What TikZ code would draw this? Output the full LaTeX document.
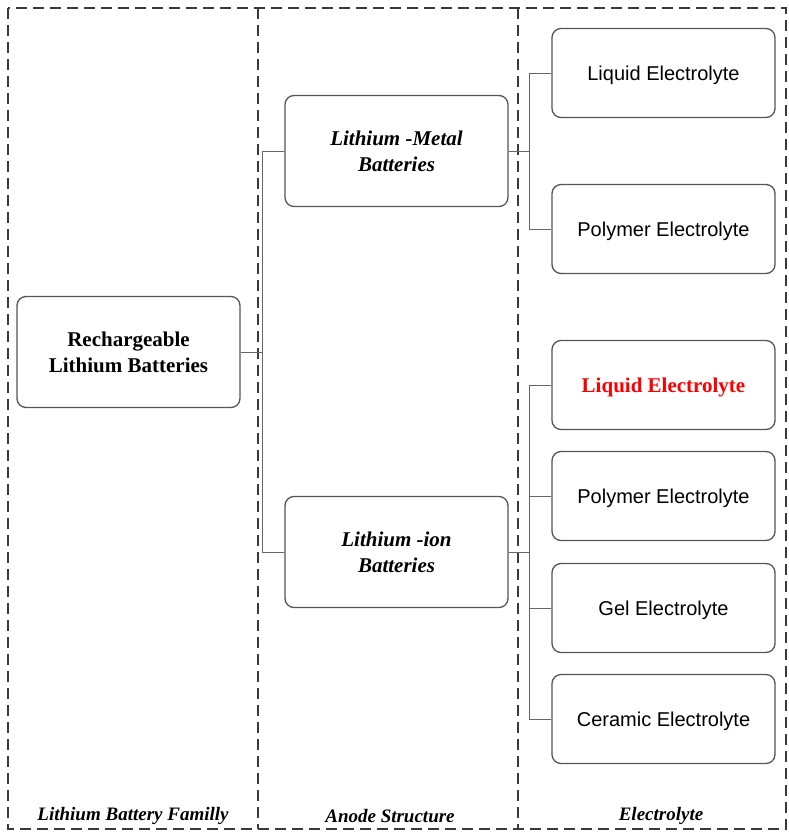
\documentclass[tikz,border=0pt]{standalone}
\usepackage{fontspec}
\setmainfont{Liberation Serif}
\setsansfont{Liberation Sans}
\definecolor{framegray}{HTML}{3A3A3A}
\definecolor{boxgray}{HTML}{555555}
\definecolor{linegray}{HTML}{666666}
\tikzset{
  frame/.style={draw=framegray, line width=2.9pt, dash pattern=on 11pt off 6pt},
  box/.style={draw=boxgray, line width=1.3pt, rounded corners=9pt, minimum width=223pt, align=center, inner sep=0pt},
  bigbox/.style={box, minimum height=111pt, font=\fontsize{21}{26}\selectfont\bfseries},
  elbox/.style={box, minimum height=89pt, font=\sffamily\fontsize{20}{24}\selectfont, text depth=0pt, yshift=0pt},
  conn/.style={draw=linegray, line width=0.9pt},
  colname/.style={font=\fontsize{19}{22}\selectfont\bfseries\itshape}
}
\begin{document}
\begin{tikzpicture}[x=1pt,y=-1pt]
      \useasboundingbox (0,0) rectangle (788,833);
      \draw[frame] (8,8) rectangle (786,829);
      \draw[frame] (258,8) -- (258,829);
      \draw[frame] (518,8) -- (518,829);
      \node[bigbox] (rlb) at (128.5,352) {Rechargeable\\Lithium Batteries};
      \node[bigbox, font=\fontsize{21}{26}\selectfont\bfseries\itshape] (lmb) at (396.5,151) {Lithium -Metal\\Batteries};
      \node[bigbox, font=\fontsize{21}{26}\selectfont\bfseries\itshape] (lib) at (396.5,552) {Lithium -ion\\Batteries};
      \node[elbox] (lmliq) at (663.5,73) {Liquid Electrolyte};
      \node[elbox] (lmpol) at (663.5,229) {Polymer Electrolyte};
      \node[elbox, font=\fontsize{21}{26}\selectfont\bfseries, text=red] (liliq) at (663.5,385) {Liquid Electrolyte};
      \node[elbox] (lipol) at (663.5,496) {Polymer Electrolyte};
      \node[elbox] (ligel) at (663.5,608) {Gel Electrolyte};
      \node[elbox] (licer) at (663.5,719) {Ceramic Electrolyte};
      \draw[conn] (rlb.east) -- ++(22,0) |- (lmb.west);
      \draw[conn] (rlb.east) -- ++(22,0) |- (lib.west);
      \draw[conn] (lmb.east) -- ++(21,0) |- (lmliq.west);
      \draw[conn] (lmb.east) -- ++(21,0) |- (lmpol.west);
      \draw[conn] (lib.east) -- ++(21,0) |- (liliq.west);
      \draw[conn] (lib.east) -- ++(21,0) |- (lipol.west);
      \draw[conn] (lib.east) -- ++(21,0) |- (ligel.west);
      \draw[conn] (lib.east) -- ++(21,0) |- (licer.west);
      \node[colname] (famname) at (133,816) {Lithium Battery Familly};
      \node[colname] (anoname) at (390,816) {Anode Structure};
      \node[colname] (eloname) at (661,816) {Electrolyte};
   \end{tikzpicture}
\end{document}
